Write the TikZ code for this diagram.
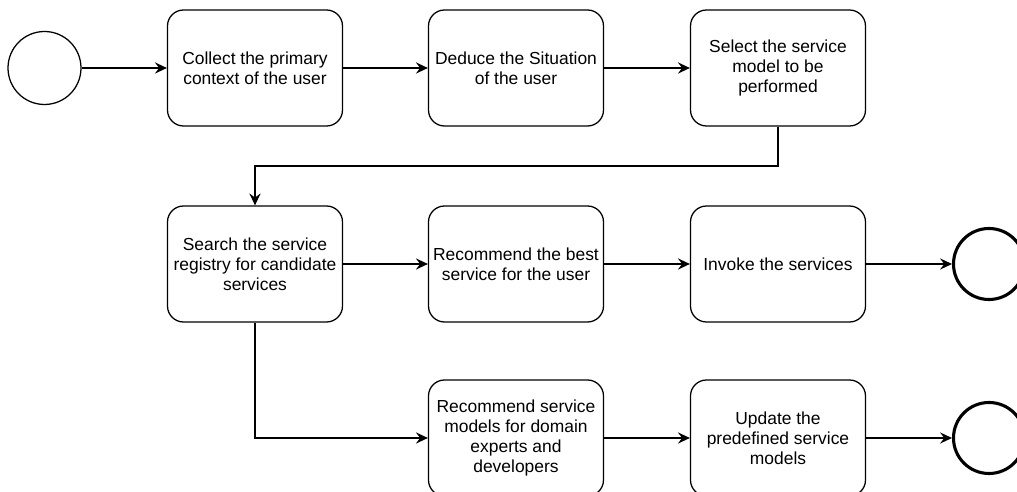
\documentclass[tikz,border=0pt]{standalone}
\usepackage{fontspec}
\setmainfont{Liberation Sans}
\usetikzlibrary{arrows.meta}
\begin{document}
\begin{tikzpicture}[scale=1,
    every node/.style={font=\fontsize{12.4pt}{14.2pt}\selectfont, align=center},
    task/.style={draw, line width=0.9pt, rounded corners=0.4cm, minimum width=4.375cm, minimum height=2.9cm, inner sep=0pt},
    startev/.style={draw, line width=0.9pt, circle, minimum size=1.825cm, inner sep=0pt},
    endev/.style={draw, line width=2.2pt, circle, minimum size=1.775cm, inner sep=0pt},
    flow/.style={line width=0.9pt, -{Stealth[length=8.5pt, width=8pt, inset=3pt]}}]
    \useasboundingbox (0,0) rectangle (25.425,12.3);
    \node[startev] (start) at (1.1125,10.6) {};
    \node[task] (collect) at (6.375,10.6) {Collect the primary\\context of the user};
    \node[task] (deduce) at (12.9,10.6) {Deduce the Situation\\of the user};
    \node[task] (select) at (19.45,10.6) {Select the service\\model to be\\performed};
    \node[task] (search) at (6.375,5.7) {Search the service\\registry for candidate\\services};
    \node[task] (recommend) at (12.9,5.7) {Recommend the best\\service for the user};
    \node[task] (invoke) at (19.45,5.7) {Invoke the services};
    \node[task] (recmodels) at (12.9,1.35) {Recommend service\\models for domain\\experts and\\developers};
    \node[task] (update) at (19.45,1.35) {Update the\\predefined service\\models};
    \node[endev] (endA) at (24.725,5.7) {};
    \node[endev] (endB) at (24.725,1.35) {};
    \coordinate (bend) at (19.45,8.15);
    \draw[flow] (start) -- (collect);
    \draw[flow] (collect) -- (deduce);
    \draw[flow] (deduce) -- (select);
    \draw[flow] (select.south) -- (bend) -| (search.north);
    \draw[flow] (search) -- (recommend);
    \draw[flow] (recommend) -- (invoke);
    \draw[flow] (invoke) -- (endA);
    \draw[flow] (search.south) |- (recmodels.west);
    \draw[flow] (recmodels) -- (update);
    \draw[flow] (update) -- (endB);
\end{tikzpicture}
\end{document}
